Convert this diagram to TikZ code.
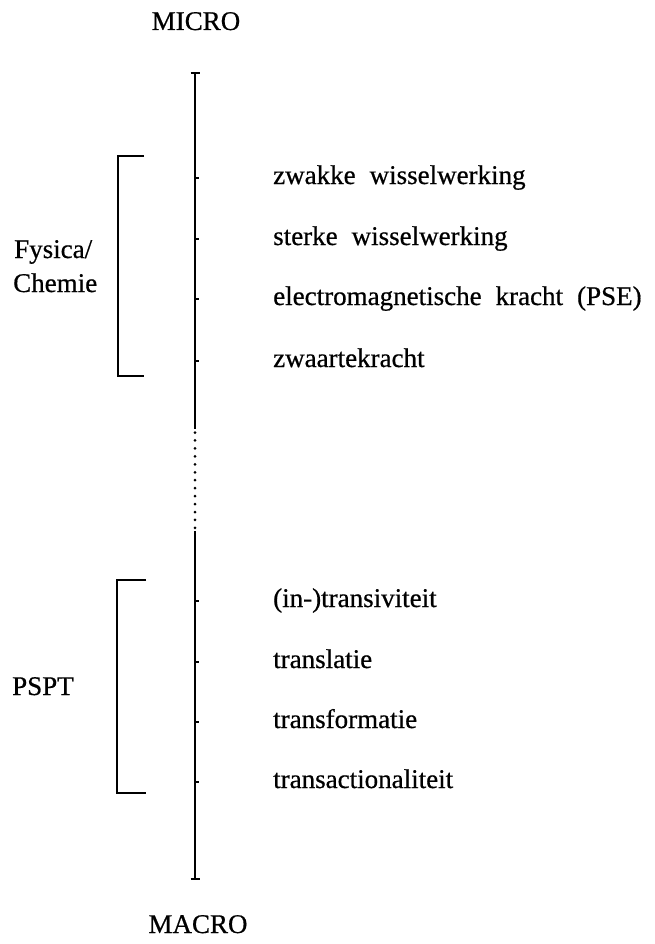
\documentclass[tikz,border=0pt]{standalone}
\usepackage{fontspec}
\setmainfont{Liberation Serif}[RawFeature={embolden=0.6}]
\newcommand\lblfont{\fontsize{27}{30}\selectfont\spaceskip 14pt plus 2pt\relax}
\begin{document}
\begin{tikzpicture}[x=1pt,y=-1pt,
  axisline/.style={line width=2pt},
  brack/.style={line width=1.6pt},
  tickmark/.style={line width=1.6pt},
  lbl/.style={anchor=base west,inner sep=0pt,font=\lblfont},
  side/.style={anchor=base west,inner sep=0pt,font=\lblfont},
  endlbl/.style={anchor=base,inner sep=0pt,font=\lblfont}]
\useasboundingbox (0,0) rectangle (654,944);
% end labels
\node[endlbl] (micro) at (196,30) {MICRO};
\node[endlbl] (macro) at (198,933) {MACRO};
% axis points
\coordinate (top) at (195,73);
\coordinate (gapA) at (195,429);
\coordinate (dotA) at (195,432.5);
\coordinate (dotB) at (195,528);
\coordinate (gapB) at (195,531);
\coordinate (bot) at (195,879);
\draw[axisline] (top) -- (gapA);
\draw[axisline] (gapB) -- (bot);
\draw[line width=3pt,line cap=round,dash pattern=on 0pt off 7.95pt] (dotA) -- (dotB);
\draw[tickmark] ([xshift=-4.5pt]top) -- ([xshift=4.5pt]top);
\draw[tickmark] ([xshift=-4.5pt]bot) -- ([xshift=4.5pt]bot);
% tick positions on the axis
\coordinate (ta1) at (195,178);
\coordinate (ta2) at (195,239);
\coordinate (ta3) at (195,299);
\coordinate (ta4) at (195,361);
\coordinate (tb1) at (195,601);
\coordinate (tb2) at (195,662);
\coordinate (tb3) at (195,722);
\coordinate (tb4) at (195,782);
\foreach \nm in {ta1,ta2,ta3,ta4,tb1,tb2,tb3,tb4}
  \draw[tickmark] (\nm) -- ++(4,0);
% labels beside the ticks
\node[lbl] (la1) at (273,184) {zwakke wisselwerking};
\node[lbl] (la2) at (273,245) {sterke wisselwerking};
\node[lbl] (la3) at (273,305) {electromagnetische kracht (PSE)};
\node[lbl] (la4) at (273,367) {zwaartekracht};
\node[lbl] (lb1) at (273,607) {(in-)transiviteit};
\node[lbl] (lb2) at (273,668) {translatie};
\node[lbl] (lb3) at (273,728) {transformatie};
\node[lbl] (lb4) at (273,788) {transactionaliteit};
% brackets
\draw[brack] (144,156) -- (118,156) -- (118,376) -- (144,376);
\draw[brack] (146,580) -- (117,580) -- (117,793) -- (146,793);
\node[side] (phys1) at (14,258) {Fysica/};
\node[side] (phys2) at (13,292) {Chemie};
\node[side] (pspt) at (12,695) {PSPT};
\end{tikzpicture}
\end{document}
